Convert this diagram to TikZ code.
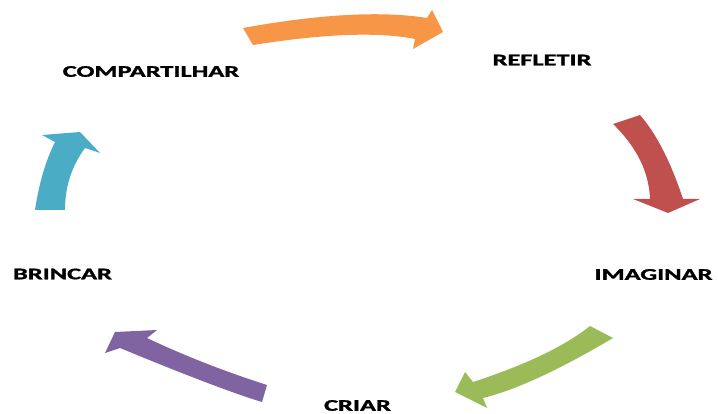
\documentclass[tikz,border=0pt]{standalone}
\usepackage{fontspec}
\setmainfont{Carlito}
\newfontfamily\lblfont{Carlito}[BoldFeatures={FakeBold=1.2}]
\definecolor{cOrange}{HTML}{F79646}
\definecolor{cRed}{HTML}{C0504D}
\definecolor{cGreen}{HTML}{9BBB59}
\definecolor{cPurple}{HTML}{8064A2}
\definecolor{cTeal}{HTML}{4BACC6}
\tikzset{
  lbl/.style={font=\fontsize{16.3}{18}\lblfont\bfseries, xscale=1.62, inner sep=0pt, text=black},
  blockarrow/.style={draw=none}
}
\begin{document}
\begin{tikzpicture}[x=1pt,y=-1pt]
\useasboundingbox (0,0) rectangle (718,414);
% labels
\node[lbl] (comp) at (151,71.5) {COMPARTILHAR};
\node[lbl] (refl) at (542,60) {REFLETIR};
\node[lbl] (imag) at (653.5,274.5) {IMAGINAR};
\node[lbl] (cria) at (357.5,405.5) {CRIAR};
\node[lbl] (brin) at (62.5,274) {BRINCAR};
% orange arrow
\fill[blockarrow,cOrange] (243,28) .. controls (320.3,14) and (381.7,10.7) .. (427,18) -- (432,10) -- (443,32) -- (413,49) -- (415,39) .. controls (378.3,31.7) and (324.3,33.7) .. (253,45) -- cycle;
% red arrow
\fill[blockarrow,cRed] (640,115) .. controls (656.3,133.7) and (670.7,161.7) .. (683,199) -- (700,199) -- (668,213) -- (633,199) -- (650,199) .. controls (649,172) and (636.7,147) .. (613,124) -- cycle;
% green arrow
\fill[blockarrow,cGreen] (613,338) .. controls (559,370) and (515.7,390) .. (483,398) -- (487,408) -- (455,392) -- (465,372) -- (473,382) .. controls (526,364.7) and (565,346) .. (590,326) -- cycle;
% purple arrow
\fill[blockarrow,cPurple] (262,402) .. controls (233.3,393.3) and (186,375.3) .. (120,348) -- (105,353) -- (115,332) -- (157,330) -- (147,338) .. controls (184.3,355.7) and (224.3,371.3) .. (267,385) -- cycle;
% teal arrow
\fill[blockarrow,cTeal] (35,210) .. controls (39,183.3) and (45.7,160.7) .. (55,142) -- (42,135) -- (80,132) -- (100,153) -- (85,148) .. controls (71.7,166) and (65,186.7) .. (65,210) -- cycle;
\end{tikzpicture}
\end{document}
